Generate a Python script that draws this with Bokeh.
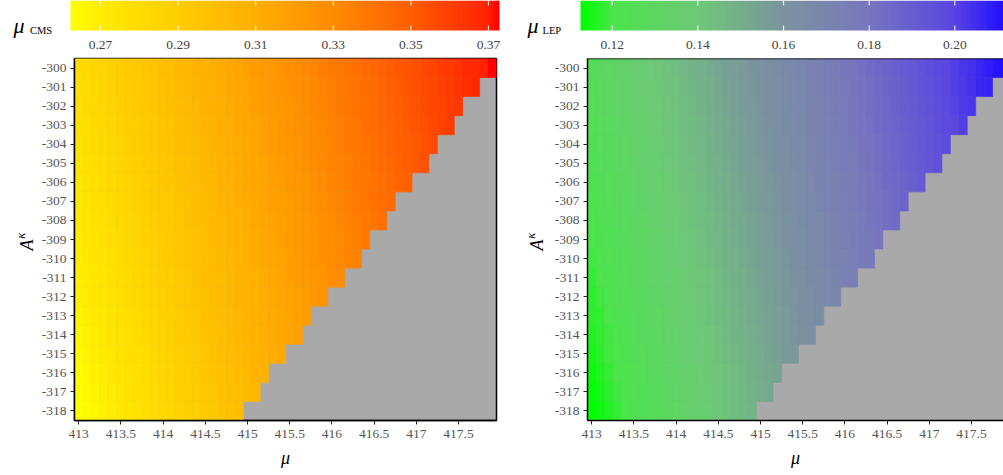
import numpy as np
from bokeh.plotting import figure
from bokeh.models import ColumnDataSource, LinearColorMapper, FixedTicker, Span
from bokeh.core.properties import value
from bokeh.transform import transform
from bokeh.layouts import row, column
from bokeh.embed import file_html
from bokeh.resources import INLINE

# ---------------- data ----------------
mu_values = [413.0, 413.1, 413.2, 413.3, 413.4, 413.5, 413.6, 413.7, 413.8, 413.9,
             414.0, 414.1, 414.2, 414.3, 414.4, 414.5, 414.6, 414.7, 414.8, 414.9,
             415.0, 415.1, 415.2, 415.3, 415.4, 415.5, 415.6, 415.7, 415.8, 415.9,
             416.0, 416.1, 416.2, 416.3, 416.4, 416.5, 416.6, 416.7, 416.8, 416.9,
             417.0, 417.1, 417.2, 417.3, 417.4, 417.5, 417.6, 417.7, 417.8, 417.9]
A_values = [-300, -301, -302, -303, -304, -305, -306, -307, -308, -309,
            -310, -311, -312, -313, -314, -315, -316, -317, -318]

# mu_CMS per row (x1000), rows -300 ... -318, cells from mu=413.0 upward; cells not listed are empty (grey)
mu_cms_milli = [
    [280,282,284,286,288,290,292,293,295,297,299,301,303,305,307,308,310,312,314,316,318,320,322,323,325,327,329,331,333,335,337,338,340,342,344,346,348,350,352,353,355,357,359,361,363,365,367,368,370,373],
    [279,281,283,285,287,289,291,292,294,296,298,300,302,304,306,308,309,311,313,315,317,319,321,323,324,326,328,330,332,334,336,338,339,341,343,345,347,349,351,353,355,356,358,360,362,364,366,368],
    [278,280,282,284,286,288,290,292,293,295,297,299,301,303,305,307,309,310,312,314,316,318,320,322,324,326,327,329,331,333,335,337,339,341,342,344,346,348,350,352,354,356,358,359,361,363],
    [277,279,281,283,285,287,289,291,292,294,296,298,300,302,304,306,308,310,311,313,315,317,319,321,323,325,327,328,330,332,334,336,338,340,342,344,346,347,349,351,353,355,357,359,361],
    [276,278,280,282,284,286,288,290,292,293,295,297,299,301,303,305,307,309,311,312,314,316,318,320,322,324,326,328,330,331,333,335,337,339,341,343,345,347,349,350,352,354,356],
    [275,277,279,281,283,285,287,289,291,292,294,296,298,300,302,304,306,308,310,312,313,315,317,319,321,323,325,327,329,331,333,334,336,338,340,342,344,346,348,350,352,354],
    [274,276,278,280,282,284,286,288,290,292,293,295,297,299,301,303,305,307,309,311,313,315,316,318,320,322,324,326,328,330,332,334,336,338,339,341,343,345,347,349],
    [273,275,277,279,281,283,285,287,289,291,293,294,296,298,300,302,304,306,308,310,312,314,316,318,319,321,323,325,327,329,331,333,335,337,339,341,343,344],
    [272,274,276,278,280,282,284,286,288,290,292,294,295,297,299,301,303,305,307,309,311,313,315,317,319,321,322,324,326,328,330,332,334,336,338,340,342],
    [271,273,275,277,279,281,283,285,287,289,291,293,295,296,298,300,302,304,306,308,310,312,314,316,318,320,322,324,326,327,329,331,333,335,337],
    [270,272,274,276,278,280,282,284,286,288,290,292,294,296,298,299,301,303,305,307,309,311,313,315,317,319,321,323,325,327,329,331,333,334],
    [269,271,273,275,277,279,281,283,285,287,289,291,293,295,297,299,301,302,304,306,308,310,312,314,316,318,320,322,324,326,328,330],
    [268,270,272,274,276,278,280,282,284,286,288,290,292,294,296,298,300,302,304,306,307,309,311,313,315,317,319,321,323,325],
    [267,269,271,273,275,277,279,281,283,285,287,289,291,293,295,297,299,301,303,305,307,309,311,312,314,316,318,320],
    [266,268,270,272,274,276,278,280,282,284,286,288,290,292,294,296,298,300,302,304,306,308,310,312,314,316,318],
    [265,267,269,271,273,275,277,279,281,283,285,287,289,291,293,295,297,299,301,303,305,307,309,311,313],
    [264,266,268,270,272,274,276,278,280,282,284,286,288,290,292,294,296,298,300,302,304,306,308],
    [263,265,267,269,271,273,275,277,279,281,283,285,287,289,291,293,295,297,299,301,303,305],
    [262,264,266,268,270,272,274,276,278,280,282,284,286,288,290,292,294,296,298,300],
]

# mu_LEP per row (x1000), same layout
mu_lep_milli = [
    [127,129,130,132,134,136,137,139,141,142,144,146,148,149,151,153,155,156,158,160,161,163,165,167,168,170,172,173,175,177,179,180,182,184,186,187,189,191,192,194,196,198,199,201,203,204,206,208,210,211],
    [126,128,130,131,133,135,137,138,140,142,143,145,147,149,150,152,154,156,157,159,161,162,164,166,168,169,171,173,175,176,178,180,181,183,185,187,188,190,192,194,195,197,199,201,202,204,206,207],
    [125,127,129,131,132,134,136,138,139,141,143,144,146,148,150,151,153,155,157,158,160,162,164,165,167,169,170,172,174,176,177,179,181,183,184,186,188,190,191,193,195,196,198,200,202,203],
    [125,126,128,130,132,133,135,137,139,140,142,144,145,147,149,151,152,154,156,158,159,161,163,165,166,168,170,172,173,175,177,179,180,182,184,186,187,189,191,192,194,196,198,199,201],
    [124,126,127,129,131,133,134,136,138,140,141,143,145,146,148,150,152,153,155,157,159,160,162,164,166,167,169,171,173,174,176,178,180,181,183,185,187,188,190,192,194,195,197],
    [123,125,127,128,130,132,134,135,137,139,141,142,144,146,148,149,151,153,155,156,158,160,162,163,165,167,169,170,172,174,176,177,179,181,183,184,186,188,190,191,193,195],
    [122,124,126,127,129,131,133,135,136,138,140,142,143,145,147,149,150,152,154,156,157,159,161,163,164,166,168,170,171,173,175,177,178,180,182,184,185,187,189,191],
    [121,123,125,127,128,130,132,134,136,137,139,141,143,144,146,148,150,151,153,155,157,158,160,162,164,166,167,169,171,173,174,176,178,180,181,183,185,187],
    [121,122,124,126,128,129,131,133,135,137,138,140,142,144,145,147,149,151,152,154,156,158,160,161,163,165,167,168,170,172,174,175,177,179,181,183,184],
    [120,122,123,125,127,129,130,132,134,136,138,139,141,143,145,146,148,150,152,154,155,157,159,161,162,164,166,168,170,171,173,175,177,178,180],
    [119,121,123,124,126,128,130,131,133,135,137,139,140,142,144,146,148,149,151,153,155,156,158,160,162,164,165,167,169,171,172,174,176,178],
    [118,120,122,124,125,127,129,131,133,134,136,138,140,141,143,145,147,149,150,152,154,156,158,159,161,163,165,166,168,170,172,174],
    [117,119,121,123,125,126,128,130,132,134,135,137,139,141,143,144,146,148,150,151,153,155,157,159,160,162,164,166,168,169],
    [117,118,120,122,124,126,127,129,131,133,135,136,138,140,142,144,145,147,149,151,153,154,156,158,160,162,163,165],
    [116,118,119,121,123,125,127,128,130,132,134,136,137,139,141,143,145,147,148,150,152,154,156,157,159,161,163],
    [115,117,119,120,122,124,126,128,129,131,133,135,137,139,140,142,144,146,148,149,151,153,155,157,158],
    [114,116,118,120,121,123,125,127,129,131,132,134,136,138,140,141,143,145,147,149,151,152,154],
    [113,115,117,119,121,123,124,126,128,130,132,133,135,137,139,141,143,144,146,148,150,152],
    [113,114,116,118,120,122,124,125,127,129,131,133,135,136,138,140,142,144,146,147],
]

mu_ticks = [413.0, 413.5, 414.0, 414.5, 415.0, 415.5, 416.0, 416.5, 417.0, 417.5]
mu_tick_labels = ["413", "413.5", "414", "414.5", "415", "415.5", "416", "416.5", "417", "417.5"]
A_ticks = A_values
A_tick_labels = ["-300", "-301", "-302", "-303", "-304", "-305", "-306", "-307", "-308", "-309",
                 "-310", "-311", "-312", "-313", "-314", "-315", "-316", "-317", "-318"]
cms_ticks = [0.27, 0.29, 0.31, 0.33, 0.35, 0.37]
cms_tick_labels = ["0.27", "0.29", "0.31", "0.33", "0.35", "0.37"]
lep_ticks = [0.12, 0.14, 0.16, 0.18, 0.20]
lep_tick_labels = ["0.12", "0.14", "0.16", "0.18", "0.20"]
cms_range = (0.26227, 0.37284)
lep_range = (0.1126, 0.21136)

# ---------------- styling ----------------
FONT = "Liberation Serif"
TICK_COLOR = "#555555"
GREY = "#a9a9a9"

cms_stops = [(0.0, (255, 255, 0)), (0.07, (255, 235, 0)), (0.25, (255, 205, 0)),
             (0.43, (255, 175, 0)), (0.61, (255, 140, 0)), (0.79, (255, 95, 0)),
             (0.975, (255, 35, 0)), (1.0, (255, 0, 0))]
lep_stops = [(0.0, (0, 255, 0)), (0.074, (75, 228, 75)), (0.276, (110, 200, 120)),
             (0.478, (122, 148, 158)), (0.68, (120, 118, 190)), (0.88, (90, 70, 225)),
             (1.0, (35, 15, 255))]


def make_palette(stops, n=256):
    fr = np.array([s[0] for s in stops])
    cols = np.array([s[1] for s in stops], dtype=float)
    t = np.linspace(0, 1, n)
    ch = [np.interp(t, fr, cols[:, i]) for i in range(3)]
    return ["#%02x%02x%02x" % (int(round(r)), int(round(g)), int(round(b)))
            for r, g, b in zip(*ch)]


cms_mapper = LinearColorMapper(palette=make_palette(cms_stops), low=cms_range[0], high=cms_range[1])
lep_mapper = LinearColorMapper(palette=make_palette(lep_stops), low=lep_range[0], high=lep_range[1])

CB_H = 52          # colour-bar strip height (px)
MAIN_H = 423       # main figure height (px)


def cell_source(rows):
    xs, ys, vs = [], [], []
    for a, vals in zip(A_values, rows):
        for k, v in enumerate(vals):
            xs.append(mu_values[k])
            ys.append(a)
            vs.append(v / 1000.0)
    return ColumnDataSource(dict(mu=xs, A=ys, v=vs))


def bare_fig(width, height, x_range, y_range):
    p = figure(width=width, height=height, title=None, x_range=x_range, y_range=y_range,
               x_axis_location=None, y_axis_location=None, min_border=0,
               output_backend="svg", toolbar_location=None)
    p.grid.visible = False
    p.outline_line_color = None
    p.background_fill_color = "white"
    p.border_fill_color = "white"
    return p


def main_fig(rows, mapper, width, bl, br, x_end, outline):
    p = figure(width=width, height=MAIN_H, title=None,
               x_range=(412.95, x_end), y_range=(-318.5, -299.5),
               min_border_left=bl, min_border_right=br, min_border_top=6, min_border_bottom=55,
               output_backend="svg", toolbar_location=None)
    p.background_fill_color = GREY
    p.border_fill_color = "white"
    p.grid.visible = False
    src = cell_source(rows)
    p.rect(x="mu", y="A", width=0.1, height=1, source=src,
           fill_color=transform("v", mapper), line_color=transform("v", mapper), line_width=0.6)
    p.xaxis.ticker = FixedTicker(ticks=mu_ticks)
    p.xaxis.major_label_overrides = dict(zip(mu_ticks, mu_tick_labels))
    p.yaxis.ticker = FixedTicker(ticks=A_ticks)
    p.yaxis.major_label_overrides = dict(zip([float(a) for a in A_ticks], A_tick_labels))
    for ax in (p.xaxis[0], p.yaxis[0]):
        ax.major_label_text_font = FONT
        ax.major_label_text_font_size = "13.5px"
        ax.major_label_text_color = TICK_COLOR
        ax.axis_line_color = "black"
        ax.axis_line_width = 1.5
        ax.major_tick_line_color = "#222222"
        ax.major_tick_in = 0
        ax.major_tick_out = 4
        ax.minor_tick_line_color = None
    p.xaxis.major_label_standoff = 5
    p.yaxis.major_label_standoff = 4
    p.xaxis.axis_label = "μ"
    p.xaxis.axis_label_text_font = FONT
    p.xaxis.axis_label_text_font_style = "italic"
    p.xaxis.axis_label_text_font_size = "18px"
    p.xaxis.axis_label_text_color = "black"
    p.xaxis.axis_label_standoff = 7
    if outline:
        p.outline_line_color = "black"
        p.outline_line_width = 1.5
    else:
        p.outline_line_color = None
        p.add_layout(Span(location=-299.5, dimension="width", line_color="black", line_width=1.5))
    return p


def ylabel_fig(width, a_center, k_center):
    # strip left of the main frame holding the rotated axis title A^kappa (coordinates in px,
    # y measured from the bottom of the strip)
    p = bare_fig(width, MAIN_H, (0, width), (0, MAIN_H))
    p.text(x=[a_center[0]], y=[a_center[1]], text=["A"], angle=np.pi / 2,
           text_font=value(FONT), text_font_style="italic", text_font_size="18px",
           text_align="center", text_baseline="middle", text_color="black")
    p.text(x=[k_center[0]], y=[k_center[1]], text=["κ"], angle=np.pi / 2,
           text_font=value(FONT), text_font_style="italic", text_font_size="12.5px",
           text_align="center", text_baseline="middle", text_color="black")
    return p


def colorbar_fig(mapper, rng, ticks, labels, width, bar_left, ppu, sub, mu_px, sub_px):
    lo, hi = rng
    x0 = lo - bar_left / ppu
    x1 = lo + (width - bar_left) / ppu
    p = bare_fig(width, CB_H, (x0, x1), (0, CB_H))
    grad = np.linspace(lo, hi, 600).reshape(1, -1)
    p.image(image=[grad], x=lo, y=CB_H - 30, dw=hi - lo, dh=30, color_mapper=mapper)
    n = len(ticks)
    p.segment(x0=ticks, y0=[CB_H] * n, x1=ticks, y1=[CB_H - 5] * n, line_color="white",
              line_width=1.2, line_alpha=0.85)
    p.segment(x0=ticks, y0=[CB_H - 30] * n, x1=ticks, y1=[CB_H - 25] * n, line_color="white",
              line_width=1.2, line_alpha=0.85)
    p.text(x=ticks, y=[CB_H - 44] * n, text=labels, text_font=value(FONT),
           text_font_size="13.5px", text_align="center", text_baseline="middle",
           text_color="#444444")
    p.text(x=[lo - (bar_left - mu_px) / ppu], y=[CB_H - 24.5], text=["μ"],
           text_font=value(FONT), text_font_style="italic", text_font_size="22px",
           text_align="left", text_baseline="middle", text_color="black")
    p.text(x=[lo - (bar_left - sub_px) / ppu], y=[CB_H - 30], text=[sub],
           text_font=value(FONT), text_font_size="10.5px",
           text_align="left", text_baseline="middle", text_color="black")
    return p


# left column: x 0..508 ; right column: x 508..1003
cb1 = colorbar_fig(cms_mapper, cms_range, cms_ticks, cms_tick_labels, 508, 70, 3880.0,
                   "CMS", 13, 29.5)
cb2 = colorbar_fig(lep_mapper, lep_range, lep_ticks, lep_tick_labels, 495, 72, 4283.0,
                   "LEP", 19, 34)

yl1 = ylabel_fig(38, (26, 205), (20, 216))
p1 = main_fig(mu_cms_milli, cms_mapper, 470, 36, 12, 417.95, True)
yl2 = ylabel_fig(40, (28, 205), (22, 216))
p2 = main_fig(mu_lep_milli, lep_mapper, 455, 39, 0, 417.879, False)

layout = row(column(cb1, row(yl1, p1)), column(cb2, row(yl2, p2)))

open("out.html", "w").write(file_html(layout, INLINE))
